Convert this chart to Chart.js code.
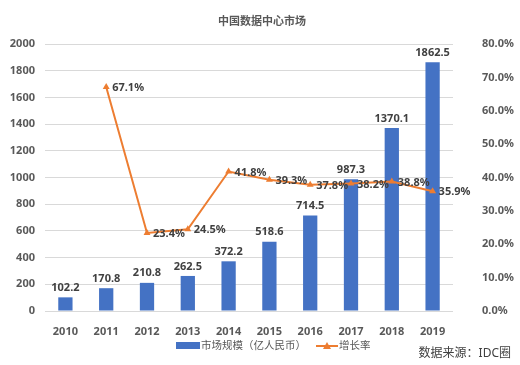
<!DOCTYPE html>
<html>
<head>
<meta charset="utf-8">
<script src="https://cdn.jsdelivr.net/npm/chart.js@4"></script>
<style>
  html, body { margin: 0; padding: 0; background: #fff; }
  #wrap { width: 520px; height: 365px; }
</style>
</head>
<body>
<div id="wrap"><canvas id="chart" width="520" height="365"></canvas></div>
<script>
// chart data
const years = ["2010","2011","2012","2013","2014","2015","2016","2017","2018","2019"];
const marketSize = [102.2, 170.8, 210.8, 262.5, 372.2, 518.6, 714.5, 987.3, 1370.1, 1862.5];
const growthRate = [null, 67.1, 23.4, 24.5, 41.8, 39.3, 37.8, 38.2, 38.8, 35.9];
const leftTicks = [0, 200, 400, 600, 800, 1000, 1200, 1400, 1600, 1800, 2000];
const rightTicks = [0, 10, 20, 30, 40, 50, 60, 70, 80];

const BLUE = "#4472C4";
const ORANGE = "#ED7D31";
const TXT = "#595959";
const FONT = "'Noto Sans', 'Noto Sans CJK SC', sans-serif";

// draws value labels, title, legend and source note
const extras = {
    id: "extras",
    afterDatasetsDraw(c) {
        const ctx = c.ctx;
        ctx.save();
        ctx.font = "bold 11px " + FONT;
        ctx.fillStyle = "#404040";

        // bar labels
        const bars = c.getDatasetMeta(0).data;
        ctx.textAlign = "center";
        ctx.textBaseline = "bottom";
        bars.forEach((b, i) => {
            ctx.fillText(marketSize[i].toFixed(1), b.x, b.y - 4);
        });

        // line labels
        const pts = c.getDatasetMeta(1).data;
        ctx.textAlign = "left";
        ctx.textBaseline = "middle";
        pts.forEach((p, i) => {
            if (growthRate[i] == null) return;
            ctx.fillText(growthRate[i].toFixed(1) + "%", p.x + 6, p.y + 1);
        });
        ctx.restore();
    },
    afterDraw(c) {
        const ctx = c.ctx;
        ctx.save();
        // title
        ctx.fillStyle = TXT;
        ctx.font = "bold 11px " + FONT;
        ctx.textAlign = "center";
        ctx.textBaseline = "middle";
        ctx.fillText("中国数据中心市场", 262, 22);

        // legend
        ctx.font = "10.5px " + FONT;
        ctx.textAlign = "left";
        ctx.fillStyle = BLUE;
        ctx.fillRect(176, 342, 24, 7);
        ctx.fillStyle = TXT;
        const lab0 = c.data.datasets[0].label;
        ctx.fillText(lab0, 201, 346);
        const lx = 201 + ctx.measureText(lab0).width + 10;

        ctx.strokeStyle = ORANGE;
        ctx.lineWidth = 2;
        ctx.beginPath();
        ctx.moveTo(lx, 346);
        ctx.lineTo(lx + 22, 346);
        ctx.stroke();
        ctx.fillStyle = ORANGE;
        ctx.beginPath();
        ctx.moveTo(lx + 11, 342);
        ctx.lineTo(lx + 15, 349);
        ctx.lineTo(lx + 7, 349);
        ctx.closePath();
        ctx.fill();
        ctx.fillStyle = TXT;
        ctx.fillText(c.data.datasets[1].label, lx + 23, 346);

        // source
        ctx.font = "12px " + FONT;
        ctx.fillStyle = "#404040";
        ctx.textAlign = "right";
        ctx.fillText("数据来源：IDC圈", 511, 354);
        ctx.restore();
    }
};

const tickFont = { family: FONT, size: 11, weight: "bold" };

new Chart(document.getElementById("chart"), {
    data: {
        labels: years,
        datasets: [
            {
                type: "bar",
                label: "市场规模（亿人民币）",
                data: marketSize,
                yAxisID: "y",
                backgroundColor: BLUE,
                categoryPercentage: 1,
                barPercentage: 0.35,
                order: 1
            },
            {
                type: "line",
                label: "增长率",
                data: growthRate,
                yAxisID: "y1",
                borderColor: ORANGE,
                backgroundColor: ORANGE,
                borderWidth: 2,
                pointStyle: "triangle",
                pointRadius: 4,
                pointBorderWidth: 0,
                tension: 0,
                spanGaps: false,
                order: 0
            }
        ]
    },
    options: {
        responsive: false,
        animation: false,
        layout: { padding: { top: 44, bottom: 24, left: 0, right: 0 } },
        plugins: {
            legend: { display: false },
            title: { display: false },
            tooltip: { enabled: false }
        },
        scales: {
            x: {
                grid: { display: false },
                border: { display: false },
                ticks: { color: TXT, font: tickFont, padding: 6 },
                afterFit(s) { s.height = 30; }
            },
            y: {
                position: "left",
                min: 0,
                max: 2000,
                afterBuildTicks(s) { s.ticks = leftTicks.map(v => ({ value: v })); },
                grid: { color: "#D9D9D9", drawTicks: false },
                border: { display: false },
                ticks: { color: TXT, font: tickFont, padding: 10, callback: v => String(v) },
                afterFit(s) { s.width = 45; }
            },
            y1: {
                position: "right",
                min: 0,
                max: 80,
                afterBuildTicks(s) { s.ticks = rightTicks.map(v => ({ value: v })); },
                grid: { display: false, drawTicks: false },
                border: { display: false },
                ticks: {
                    color: TXT,
                    font: tickFont,
                    padding: 29,
                    callback: v => v.toFixed(1) + "%"
                },
                afterFit(s) { s.width = 67; }
            }
        }
    },
    plugins: [extras]
});
</script>
</body>
</html>
